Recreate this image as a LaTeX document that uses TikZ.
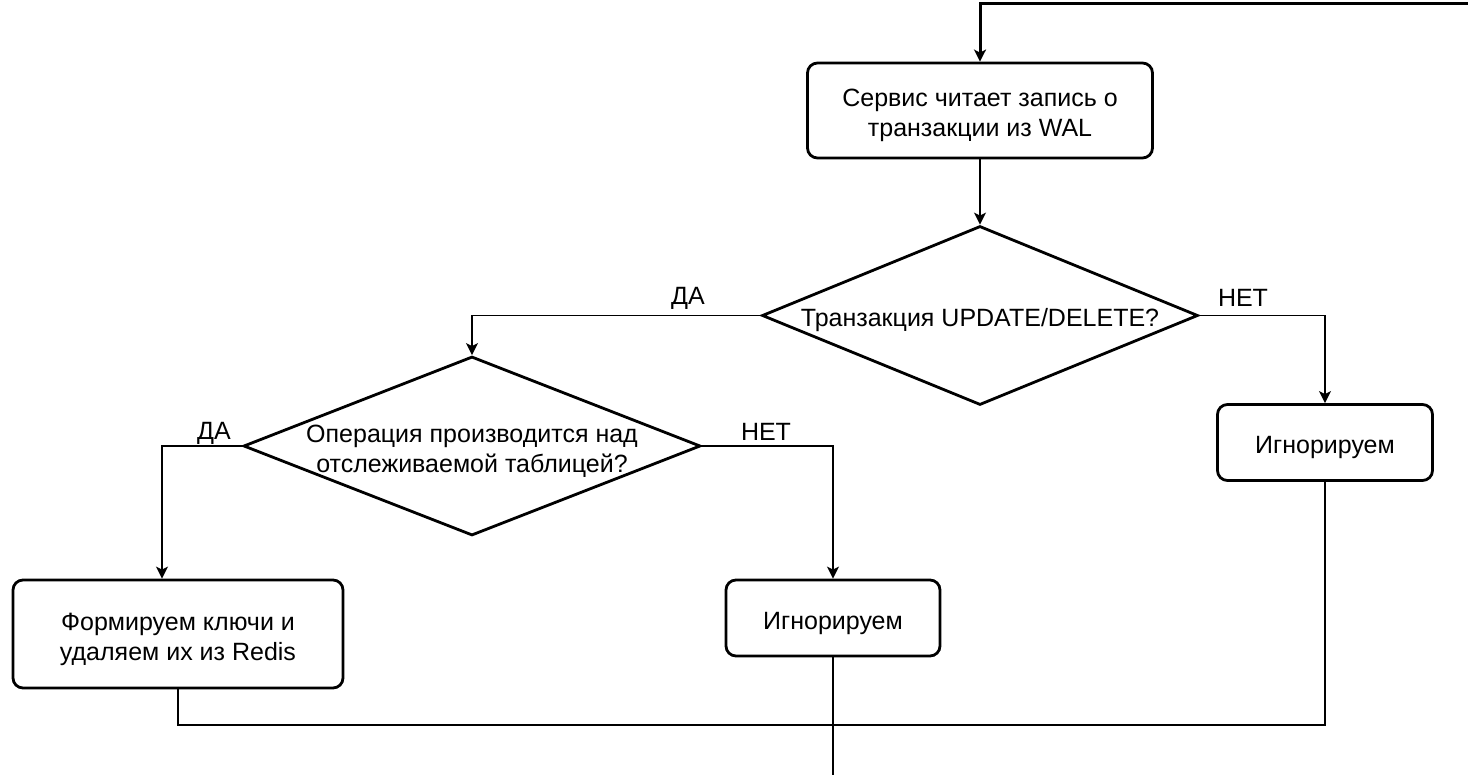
\documentclass[tikz,border=0pt]{standalone}
\usepackage{fontspec}
\setmainfont{Liberation Sans}
\usetikzlibrary{shapes.geometric,arrows.meta}
\newcommand\tall{\rule{0pt}{28pt}}

\begin{document}
\begin{tikzpicture}[x=1pt,y=-1pt,
        font=\fontsize{25}{30}\selectfont,
        >={Stealth[length=12pt,width=12pt,inset=3pt]}]
        \tikzstyle{every node}+=[inner sep=0pt]
        \tikzstyle{stepbox}=[draw, line width=2.8pt, rounded corners=10pt, align=center]
        \tikzstyle{choice}=[draw, line width=2.8pt, diamond, shape aspect=2.5, inner sep=-10pt, align=center]
        \tikzstyle{link}=[line width=1.5pt]
        \tikzstyle{loop}=[line width=3pt]
        \useasboundingbox (0,0) rectangle (1468,775);
        % blocks
        \node [stepbox, minimum width=345, minimum height=95] (read) at (980,110.5) {\tall Сервис читает запись о\\транзакции из WAL};
        \node [choice, minimum width=436, minimum height=179] (kind) at (980,315.5) {\tall Транзакция UPDATE/DELETE?};
        \node [choice, minimum width=457, minimum height=179] (tracked) at (472,446) {\tall Операция производится над\\отслеживаемой таблицей?};
        \node [stepbox, minimum width=330, minimum height=108] (drop) at (178,634) {\tall Формируем ключи и\\удаляем их из Redis};
        \node [stepbox, minimum width=214, minimum height=76] (skipa) at (833,618) {\tall Игнорируем};
        \node [stepbox, minimum width=215, minimum height=76] (skipb) at (1325,442.5) {\tall Игнорируем};
        \coordinate (loopin) at (1468,3.5);
        \coordinate (join) at (833,725);
        \coordinate (loopout) at (833,775);
        % connectors
        \draw [loop,->] (loopin) -| (read);
        \draw [link,->] (read) -- (kind);
        \draw [link,->] (kind.west) -| (tracked);
        \draw (688,298) node (yesa) {ДА};
        \draw [link,->] (kind.east) -| (skipb);
        \draw (1243,298) node (noa) {НЕТ};
        \draw [link,->] (tracked.west) -| ([xshift=-16pt]drop.north);
        \draw (214,433) node (yesb) {ДА};
        \draw [link,->] (tracked.east) -| (skipa);
        \draw (766,432) node (nob) {НЕТ};
        \draw [link] (drop) |- (join);
        \draw [link] (skipb) |- (join);
        \draw [link] (skipa) -- (join);
        \draw [line width=2pt] (join) -- (loopout);
\end{tikzpicture}
\end{document}
